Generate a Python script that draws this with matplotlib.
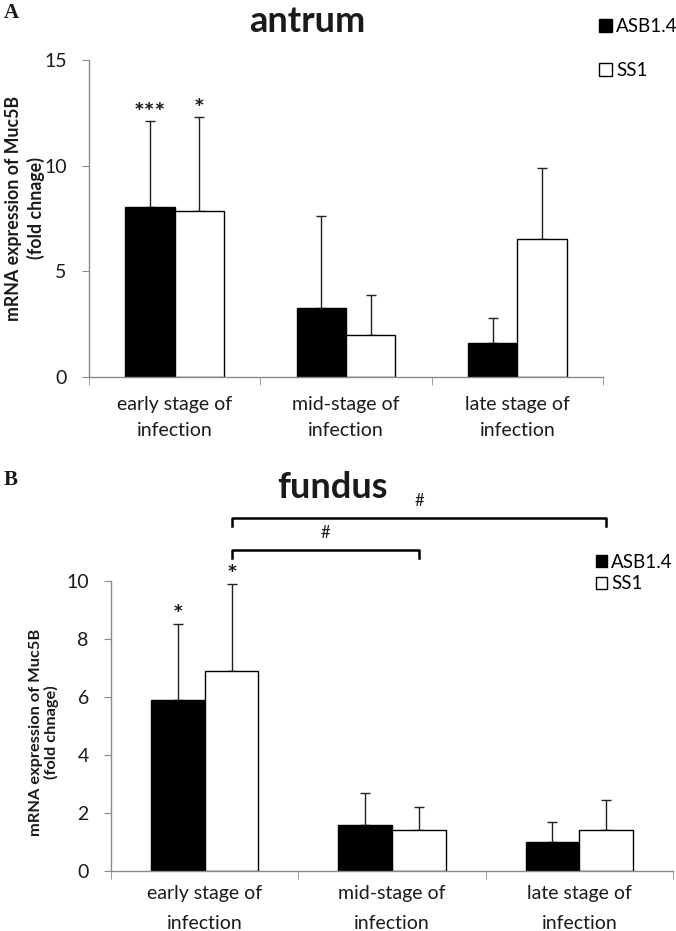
import numpy as np
import matplotlib
matplotlib.use("Agg")
import matplotlib.pyplot as plt

plt.rcParams["font.family"] = ["Lato", "DejaVu Sans"]

stages = ["early stage of\ninfection", "mid-stage of\ninfection", "late stage of\ninfection"]
strains = ["ASB1.4", "SS1"]

# antrum (panel A)
antrum_asb = [8.04, 3.26, 1.62]
antrum_ss1 = [7.85, 1.99, 6.52]
antrum_asb_err = [4.09, 4.38, 1.17]
antrum_ss1_err = [4.47, 1.89, 3.39]
antrum_stars_asb = ["***", "", ""]
antrum_stars_ss1 = ["*", "", ""]

# fundus (panel B)
fundus_asb = [5.89, 1.58, 0.99]
fundus_ss1 = [6.88, 1.40, 1.40]
fundus_asb_err = [2.64, 1.10, 0.70]
fundus_ss1_err = [3.03, 0.82, 1.06]
fundus_stars_asb = ["*", "", ""]
fundus_stars_ss1 = ["*", "", ""]
# brackets between SS1 groups: (from stage, to stage, height, label)
fundus_brackets = [(0, 1, 11.07, "#"), (0, 2, 12.17, "#")]

ylab = "mRNA expression of Muc5B\n(fold chnage)"

W, H = 676, 931
fig = plt.figure(figsize=(W / 100, H / 100), dpi=100)

GREY = "#8a8a8a"
TXT = "#1a1a1a"
bw = 0.287


def px_axes(l, r, t, b):
    return fig.add_axes([l / W, 1 - b / H, (r - l) / W, (b - t) / H])


def draw_panel(ax, asb, ss1, asb_err, ss1_err, stars_asb, stars_ss1, ymax, step, fs, lsp, xpad, star_off):
    x = np.arange(len(stages))
    b1 = ax.bar(x - bw / 2, asb, bw, color="black", edgecolor="black", lw=1, label=strains[0], zorder=2)
    b2 = ax.bar(x + bw / 2, ss1, bw, color="white", edgecolor="black", lw=1, label=strains[1], zorder=2)
    ax.errorbar(x - bw / 2, asb, yerr=[np.zeros(3), asb_err], fmt="none", ecolor="#222222",
                elinewidth=1, capsize=3.5, capthick=1, zorder=1)
    ax.errorbar(x + bw / 2, ss1, yerr=[np.zeros(3), ss1_err], fmt="none", ecolor="#222222",
                elinewidth=1, capsize=3.5, capthick=1, zorder=1)
    for i in range(len(stages)):
        for xs, v, e, s in [(x[i] - bw / 2, asb[i], asb_err[i], stars_asb[i]),
                            (x[i] + bw / 2, ss1[i], ss1_err[i], stars_ss1[i])]:
            if s:
                ax.annotate(s, (xs, v + e), xytext=(0, star_off), textcoords="offset points",
                            ha="center", va="center", fontsize=18, fontweight="bold", color=TXT,
                            annotation_clip=False)
    ax.set_xlim(-0.5, len(stages) - 0.5)
    ax.set_ylim(0, ymax)
    ax.set_yticks(np.arange(0, ymax + 0.1, step))
    ax.set_xticks(x)
    ax.set_xticklabels(stages, fontsize=fs, color=TXT, linespacing=lsp)
    ax.set_xticks(np.arange(-0.5, len(stages), 1), minor=True)
    ax.tick_params(axis="x", which="major", length=0, pad=xpad)
    ax.tick_params(axis="x", which="minor", length=6, color=GREY, direction="out")
    ax.tick_params(axis="y", length=5, color=GREY, labelsize=fs, labelcolor=TXT, pad=11)
    for sp in ["top", "right"]:
        ax.spines[sp].set_visible(False)
    for sp in ["left", "bottom"]:
        ax.spines[sp].set_color(GREY)
        ax.spines[sp].set_linewidth(1)
    return b1, b2


# panel A
axA = px_axes(89, 603, 60, 377)
hA = draw_panel(axA, antrum_asb, antrum_ss1, antrum_asb_err, antrum_ss1_err,
                antrum_stars_asb, antrum_stars_ss1, 15, 5, 14, 1.6, 14, 5)
fig.text(25 / W, 1 - 208 / H, ylab, rotation=90, ha="center", va="center", fontsize=12.8,
         fontweight="bold", color=TXT, linespacing=1.3, multialignment="center")
fig.text(307 / W, 1 - 22 / H, "antrum", ha="center", va="center", fontsize=26, fontweight="bold", color=TXT)
fig.text(4 / W, 1 - 13 / H, "A", ha="left", va="center", fontsize=15, fontweight="bold",
         family="Liberation Serif", color=TXT)
axA.legend(hA, strains, loc="center left", bbox_to_anchor=(599 / W, 1 - 48.5 / H),
           bbox_transform=fig.transFigure, frameon=False, fontsize=13.5, handlelength=0.7,
           handleheight=0.7, handletextpad=0.2, labelspacing=1.4, borderpad=0, borderaxespad=0)

# panel B
axB = px_axes(111, 673, 581, 871)
hB = draw_panel(axB, fundus_asb, fundus_ss1, fundus_asb_err, fundus_ss1_err,
                fundus_stars_asb, fundus_stars_ss1, 10, 2, 14, 1.95, 10, 6)
fig.text(44 / W, 1 - 732 / H, ylab, rotation=90, ha="center", va="center", fontsize=11.8,
         fontweight="bold", color=TXT, linespacing=1.05, multialignment="center")
fig.text(332 / W, 1 - 487 / H, "fundus", ha="center", va="center", fontsize=26, fontweight="bold", color=TXT)
fig.text(4 / W, 1 - 480 / H, "B", ha="left", va="center", fontsize=15, fontweight="bold",
         family="Liberation Serif", color=TXT)
axB.legend(hB, strains, loc="center left", bbox_to_anchor=(596 / W, 1 - 573 / H),
           bbox_transform=fig.transFigure, frameon=False, fontsize=13.5, handlelength=0.6,
           handleheight=0.6, handletextpad=0.2, labelspacing=0.25, borderpad=0, borderaxespad=0)

drop = 0.27
for a, b, h, lab in fundus_brackets:
    xa, xb = a + bw / 2, b + bw / 2
    axB.plot([xa, xa, xb, xb], [h - drop, h, h, h - drop], color="black", lw=1.8, clip_on=False)
    axB.annotate(lab, ((xa + xb) / 2, h), xytext=(0, 12), textcoords="offset points",
                 ha="center", va="center", fontsize=12, color=TXT, annotation_clip=False)

fig.savefig("out.png", dpi=100)
